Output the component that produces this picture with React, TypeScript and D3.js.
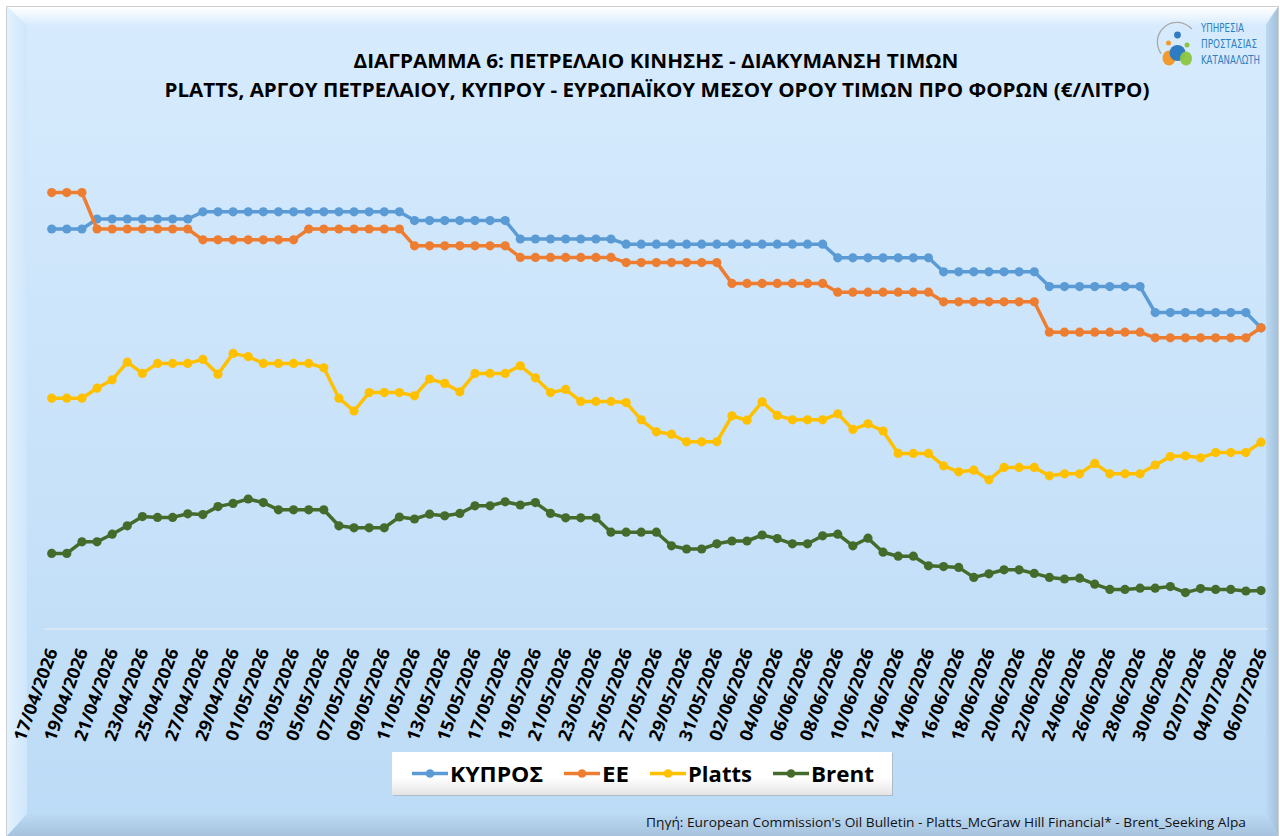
import React from "react";
import * as d3 from "d3";

const startDate = new Date(2026, 3, 17);
const endDate = new Date(2026, 6, 7);
const dates: Date[] = d3.timeDay.range(startDate, endDate);
const fmt = d3.timeFormat("%d/%m/%Y");
const categories: string[] = dates.map((d) => fmt(d));
const tickLabels: string[] = categories.filter((_, i) => i % 2 === 0);

const cyprus: number[] = [
  1.300, 1.300, 1.300,
  1.325, 1.325, 1.325, 1.325, 1.325, 1.325, 1.325,
  1.343, 1.343, 1.343, 1.343, 1.343, 1.343, 1.343, 1.343, 1.343, 1.343, 1.343, 1.343, 1.343, 1.343,
  1.321, 1.321, 1.321, 1.321, 1.321, 1.321, 1.321,
  1.275, 1.275, 1.275, 1.275, 1.275, 1.275, 1.275,
  1.262, 1.262, 1.262, 1.262, 1.262, 1.262, 1.262, 1.262, 1.262, 1.262, 1.262, 1.262, 1.262, 1.262,
  1.228, 1.228, 1.228, 1.228, 1.228, 1.228, 1.228,
  1.193, 1.193, 1.193, 1.193, 1.193, 1.193, 1.193,
  1.156, 1.156, 1.156, 1.156, 1.156, 1.156, 1.156,
  1.091, 1.091, 1.091, 1.091, 1.091, 1.091, 1.091,
  1.053,
];

const ee: number[] = [
  1.391, 1.391, 1.391,
  1.300, 1.300, 1.300, 1.300, 1.300, 1.300, 1.300,
  1.273, 1.273, 1.273, 1.273, 1.273, 1.273, 1.273,
  1.300, 1.300, 1.300, 1.300, 1.300, 1.300, 1.300,
  1.258, 1.258, 1.258, 1.258, 1.258, 1.258, 1.258,
  1.229, 1.229, 1.229, 1.229, 1.229, 1.229, 1.229,
  1.216, 1.216, 1.216, 1.216, 1.216, 1.216, 1.216,
  1.164, 1.164, 1.164, 1.164, 1.164, 1.164, 1.164,
  1.142, 1.142, 1.142, 1.142, 1.142, 1.142, 1.142,
  1.118, 1.118, 1.118, 1.118, 1.118, 1.118, 1.118,
  1.042, 1.042, 1.042, 1.042, 1.042, 1.042, 1.042,
  1.028, 1.028, 1.028, 1.028, 1.028, 1.028, 1.028,
  1.053,
];

const platts: number[] = [
  0.877, 0.877, 0.877, 0.902, 0.923, 0.967, 0.939, 0.964, 0.964, 0.964,
  0.974, 0.937, 0.989, 0.981, 0.964, 0.964, 0.964, 0.964, 0.953, 0.877,
  0.845, 0.891, 0.891, 0.891, 0.883, 0.925, 0.914, 0.893, 0.939, 0.939,
  0.939, 0.958, 0.928, 0.891, 0.899, 0.869, 0.869, 0.869, 0.866, 0.823,
  0.793, 0.787, 0.768, 0.768, 0.768, 0.833, 0.822, 0.868, 0.834, 0.823,
  0.823, 0.823, 0.838, 0.799, 0.813, 0.795, 0.739, 0.739, 0.739, 0.708,
  0.693, 0.697, 0.673, 0.704, 0.704, 0.704, 0.683, 0.688, 0.688, 0.714,
  0.688, 0.688, 0.688, 0.710, 0.731, 0.733, 0.728, 0.741, 0.741, 0.741,
  0.767,
];

const brent: number[] = [
  0.489, 0.489, 0.518, 0.518, 0.537, 0.558, 0.581, 0.579, 0.579, 0.588,
  0.586, 0.606, 0.614, 0.625, 0.616, 0.598, 0.598, 0.598, 0.598, 0.558,
  0.553, 0.553, 0.553, 0.580, 0.575, 0.587, 0.583, 0.589, 0.608, 0.608,
  0.618, 0.610, 0.616, 0.589, 0.578, 0.578, 0.578, 0.542, 0.542, 0.542,
  0.542, 0.508, 0.500, 0.500, 0.513, 0.520, 0.520, 0.535, 0.526, 0.513,
  0.513, 0.533, 0.537, 0.508, 0.527, 0.492, 0.482, 0.482, 0.458, 0.456,
  0.454, 0.429, 0.438, 0.448, 0.448, 0.439, 0.429, 0.425, 0.427, 0.412,
  0.399, 0.399, 0.402, 0.402, 0.406, 0.391, 0.401, 0.399, 0.399, 0.395,
  0.396,
];

const seriesNames: string[] = ["ΚΥΠΡΟΣ", "ΕΕ", "Platts", "Brent"];
const seriesColors: string[] = ["#5B9BD5", "#ED7D31", "#FFC000", "#456B2C"];
const seriesValues: number[][] = [cyprus, ee, platts, brent];

const titleLine1 = "ΔΙΑΓΡΑΜΜΑ 6: ΠΕΤΡΕΛΑΙΟ ΚΙΝΗΣΗΣ - ΔΙΑΚΥΜΑΝΣΗ ΤΙΜΩΝ";
const titleLine2 =
  "PLATTS, ΑΡΓΟΥ ΠΕΤΡΕΛΑΙΟΥ, ΚΥΠΡΟΥ - ΕΥΡΩΠΑΪΚΟΥ ΜΕΣΟΥ ΟΡΟΥ ΤΙΜΩΝ ΠΡΟ ΦΟΡΩΝ (€/ΛΙΤΡΟ)";
const sourceText =
  "Πηγή: European Commission's Oil Bulletin - Platts_McGraw Hill Financial* - Brent_Seeking Alpa";
const logoLines: string[] = ["ΥΠΗΡΕΣΙΑ", "ΠΡΟΣΤΑΣΙΑΣ", "ΚΑΤΑΝΑΛΩΤΗ"];

const W = 1280;
const H = 836;
const FONT = "'Open Sans', 'Noto Sans', 'DejaVu Sans', sans-serif";

export default function App() {
  const x = d3.scalePoint<string>().domain(categories).range([51.7, 1261]);
  const y = d3.scaleLinear().domain([0.3, 1.55]).range([629, 129]);

  const line = d3
    .line<number>()
    .x((_, i) => x(categories[i]) as number)
    .y((d) => y(d));

  const legendItems = [
    { lx: 412, tx: 450, tw: 93 },
    { lx: 564, tx: 602, tw: 27 },
    { lx: 650, tx: 688, tw: 64 },
    { lx: 773, tx: 811, tw: 63 },
  ];

  const arc = d3.arc()({
    innerRadius: 19,
    outerRadius: 20.3,
    startAngle: -2.2,
    endAngle: 0.85,
  } as any) as string;

  return (
    <svg
      width={W}
      height={H}
      style={{ position: "absolute", left: 0, top: 0, display: "block" }}
      fontFamily={FONT}
    >
      <defs>
        <linearGradient id="bg" x1="0" y1="0" x2="0" y2="1">
          <stop offset="0" stopColor="#d7ebfd" />
          <stop offset="1" stopColor="#bcdbf6" />
        </linearGradient>
        <linearGradient id="topBev" x1="0" y1="0" x2="0" y2="1">
          <stop offset="0" stopColor="#ffffff" />
          <stop offset="1" stopColor="#d9ecfd" />
        </linearGradient>
        <linearGradient id="leftBev" x1="0" y1="0" x2="1" y2="0">
          <stop offset="0" stopColor="#e2f2ff" />
          <stop offset="1" stopColor="#cfe6fb" />
        </linearGradient>
        <linearGradient id="rightBev" x1="0" y1="0" x2="1" y2="0">
          <stop offset="0" stopColor="#bcd9f3" />
          <stop offset="1" stopColor="#a3c0db" />
        </linearGradient>
        <linearGradient id="botBev" x1="0" y1="0" x2="0" y2="1">
          <stop offset="0" stopColor="#bcdaf4" />
          <stop offset="1" stopColor="#a6c2dc" />
        </linearGradient>
        <linearGradient id="legBg" x1="0" y1="0" x2="0" y2="1">
          <stop offset="0" stopColor="#ffffff" />
          <stop offset="0.6" stopColor="#ffffff" />
          <stop offset="1" stopColor="#e4e4e4" />
        </linearGradient>
      </defs>

      <rect x={0} y={0} width={W} height={H} fill="#ffffff" />
      <rect x={6.5} y={6.5} width={1272} height={832} fill="none" stroke="#cfcfcf" />
      <rect x={7} y={7} width={1271} height={829} fill="url(#bg)" />
      <polygon points="7,7 1278,7 1264,25 27,25" fill="url(#topBev)" />
      <polygon points="7,7 27,25 27,814 7,836" fill="url(#leftBev)" />
      <polygon points="1278,7 1278,836 1266,814 1266,25" fill="url(#rightBev)" />
      <polygon points="7,836 27,814 1266,814 1278,836" fill="url(#botBev)" />

      {/* title */}
      <text x={656} y={68} textAnchor="middle" fontSize={19} fontWeight="bold" fill="#000"
        textLength={605} lengthAdjust="spacingAndGlyphs">
        {titleLine1}
      </text>
      <text x={657} y={97} textAnchor="middle" fontSize={19} fontWeight="bold" fill="#000"
        textLength={985} lengthAdjust="spacingAndGlyphs">
        {titleLine2}
      </text>

      {/* logo */}
      <g>
        <path d={arc} transform="translate(1177,42)" fill="#a8a8a8" />
        <ellipse cx={1169} cy={58} rx={6.5} ry={7.5} fill="#f39a2c" />
        <circle cx={1177.5} cy={53} r={8} fill="#2f7cc4" />
        <ellipse cx={1186} cy={58.5} rx={6} ry={7} fill="#8cc63f" opacity={0.95} />
        <circle cx={1177.5} cy={35} r={3.4} fill="#2f7cc4" />
        <circle cx={1168.5} cy={43} r={2.5} fill="#f39a2c" />
        <circle cx={1187} cy={45} r={2.5} fill="#8cc63f" />
        {logoLines.map((t, i) => (
          <text key={t} x={1201} y={32 + i * 16} fontSize={12.5} fill="#2f7fc1"
            fontFamily="'Liberation Sans Narrow', 'DejaVu Sans Condensed', sans-serif"
            textLength={[43, 56, 59][i]} lengthAdjust="spacingAndGlyphs">
            {t}
          </text>
        ))}
      </g>

      {/* axis line */}
      <line x1={44} x2={1268} y1={629} y2={629} stroke="#dde9f5" strokeWidth={1.5} />

      {/* series */}
      {seriesValues.map((vals, s) => (
        <g key={seriesNames[s]}>
          <path d={line(vals) as string} fill="none" stroke={seriesColors[s]} strokeWidth={3.5}
            strokeLinejoin="round" strokeLinecap="round" />
          {vals.map((v, i) => (
            <circle key={i} cx={x(categories[i]) as number} cy={y(v)} r={4.6} fill={seriesColors[s]} />
          ))}
        </g>
      ))}

      {/* x tick labels */}
      {tickLabels.map((t) => {
        const px = (x(t) as number) + 6.3;
        const py = 651;
        return (
          <text key={t} x={px} y={py} transform={`rotate(-70,${px},${py})`} textAnchor="end"
            fontSize={17.5} fontWeight="bold" fill="#000" textLength={97}
            lengthAdjust="spacingAndGlyphs">
            {t}
          </text>
        );
      })}

      {/* legend */}
      <rect x={393} y={753} width={500} height={43} fill="#9a9a9a" opacity={0.5} />
      <rect x={392} y={752} width={500} height={43} fill="url(#legBg)" />
      {seriesNames.map((n, i) => {
        const it = legendItems[i];
        return (
          <g key={n}>
            <line x1={it.lx} x2={it.lx + 36} y1={773.5} y2={773.5} stroke={seriesColors[i]} strokeWidth={3.5} />
            <circle cx={it.lx + 18} cy={773.5} r={4.3} fill={seriesColors[i]} />
            <text x={it.tx} y={781.5} fontSize={22} fontWeight="bold" fill="#000"
              textLength={it.tw} lengthAdjust="spacingAndGlyphs">
              {n}
            </text>
          </g>
        );
      })}

      {/* source */}
      <text x={646} y={827} fontSize={13.5} fill="#111" textLength={600} lengthAdjust="spacingAndGlyphs">
        {sourceText}
      </text>
    </svg>
  );
}
